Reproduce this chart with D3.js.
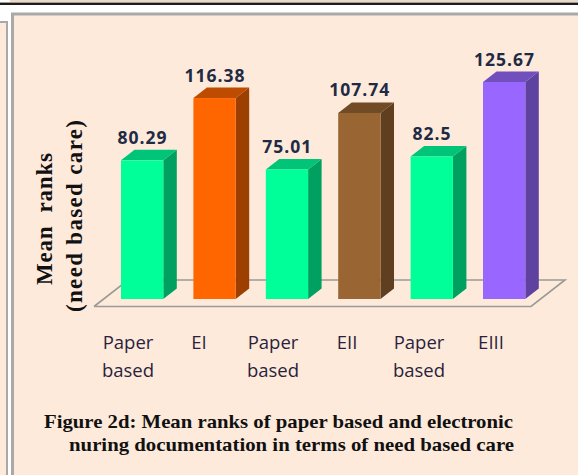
<!DOCTYPE html>
<html><head><meta charset="utf-8">
<script src="https://cdn.jsdelivr.net/npm/d3@7/dist/d3.min.js"></script>
<style>html,body{margin:0;padding:0;background:#fdeadb}svg{display:block}</style>
</head><body><svg id="c" width="578" height="475"></svg>
<script>
const categories = ["Paper based","EI","Paper based","EII","Paper based","EIII"];
const values = [80.29,116.38,75.01,107.74,82.5,125.67];
const valueLabels = ["80.29","116.38","75.01","107.74","82.5","125.67"];
const frontColors = ["#00ff99","#ff6600","#00ff99","#996633","#00ff99","#9966ff"];
const topColors = ["#00c477","#bd4c00","#00c477","#714b26","#00c477","#7150bd"];
const sideColors = ["#00a060","#9c3f00","#00a060","#5f3f1f","#00a060","#5f429f"];
const titleLines = ["Figure 2d: Mean ranks of paper based and electronic","nuring documentation in terms of need based care"];

const svg = d3.select("#c");
const W=578,H=475;
// page furniture
svg.append("rect").attr("width",W).attr("height",H).attr("fill","#ffffff");
svg.append("rect").attr("x",10).attr("y",0).attr("width",W).attr("height",2).attr("fill","#e8d8ca");
svg.append("rect").attr("x",0).attr("y",2).attr("width",W).attr("height",1).attr("fill","#a89c92");
svg.append("rect").attr("x",0).attr("y",3).attr("width",W).attr("height",2).attr("fill","#1c1c1c");
svg.append("rect").attr("x",-10).attr("y",22).attr("width",17).attr("height",470).attr("fill","#fdeadb").attr("stroke","#a9a9a9").attr("stroke-width",2);
svg.append("rect").attr("x",12.5).attr("y",14).attr("width",600).attr("height",480).attr("fill","#fdeadb").attr("stroke","#a9a9a9").attr("stroke-width",3);

const depthX=13.5,depthY=10.5;
const bw=42.3;
const pos=d3.scalePoint().domain(d3.range(values.length)).range([121,483]);
const y=d3.scaleLinear().domain([0,125.67]).range([299,82]);

// floor
const floor=d3.line();
svg.append("path").attr("d",floor([[94,306.5],[531,306.5],[565,280],[128,280],[94,306.5]]))
 .attr("fill","none").attr("stroke","#9a9a96").attr("stroke-width",1.6);

const g=svg.selectAll("g.bar").data(values).join("g").attr("class","bar");
g.append("path").attr("d",(d,i)=>{const a=pos(i),b=a+bw,t=y(d);return floor([[b,t],[b+depthX,t-depthY],[b+depthX,y(0)-depthY],[b,y(0)]])+"Z";}).attr("fill",(d,i)=>sideColors[i]);
g.append("path").attr("d",(d,i)=>{const a=pos(i),b=a+bw,t=y(d);return floor([[a,t],[a+depthX,t-depthY],[b+depthX,t-depthY],[b,t]])+"Z";}).attr("fill",(d,i)=>topColors[i]);
g.append("rect").attr("x",(d,i)=>pos(i)).attr("y",d=>y(d)).attr("width",bw).attr("height",d=>y(0)-y(d)).attr("fill",(d,i)=>frontColors[i]);

const labelFont="'Open Sans','DejaVu Sans',sans-serif";
g.append("text").attr("x",(d,i)=>pos(i)+21.5).attr("y",d=>y(d)-16.5).attr("text-anchor","middle")
 .attr("font-family",labelFont).attr("font-weight",700).attr("font-size",17.5).attr("letter-spacing",1).attr("fill","#1f2a44").text((d,i)=>valueLabels[i]);

// category labels
const catX=[128,199,273,347,419,491];
categories.forEach((c,i)=>{
  c.split(" ").forEach((p,j)=>svg.append("text").attr("x",catX[i]).attr("y",349+j*28).attr("text-anchor","middle")
    .attr("font-family",labelFont).attr("font-size",18.5).attr("fill","#2a1f3d").text(p));
});

// y title
const serif="'Liberation Serif','DejaVu Serif',serif";
svg.append("text").attr("transform","translate(52,219) rotate(-90)").attr("text-anchor","middle")
 .attr("font-family",serif).attr("font-weight",700).attr("font-size",23).attr("fill","#111").attr("xml:space","preserve").attr("textLength",132).text("Mean  ranks");
svg.append("text").attr("transform","translate(82,216) rotate(-90)").attr("text-anchor","middle")
 .attr("font-family",serif).attr("font-weight",700).attr("font-size",23).attr("fill","#111").attr("textLength",192).text("(need based care)");

// caption
svg.append("text").attr("x",44).attr("y",428).attr("font-family",serif).attr("font-weight",700).attr("font-size",19).attr("fill","#111").attr("textLength",469).attr("lengthAdjust","spacingAndGlyphs").text(titleLines[0]);
svg.append("text").attr("x",69).attr("y",451).attr("font-family",serif).attr("font-weight",700).attr("font-size",19).attr("fill","#111").attr("textLength",445).attr("lengthAdjust","spacingAndGlyphs").text(titleLines[1]);
</script></body></html>
